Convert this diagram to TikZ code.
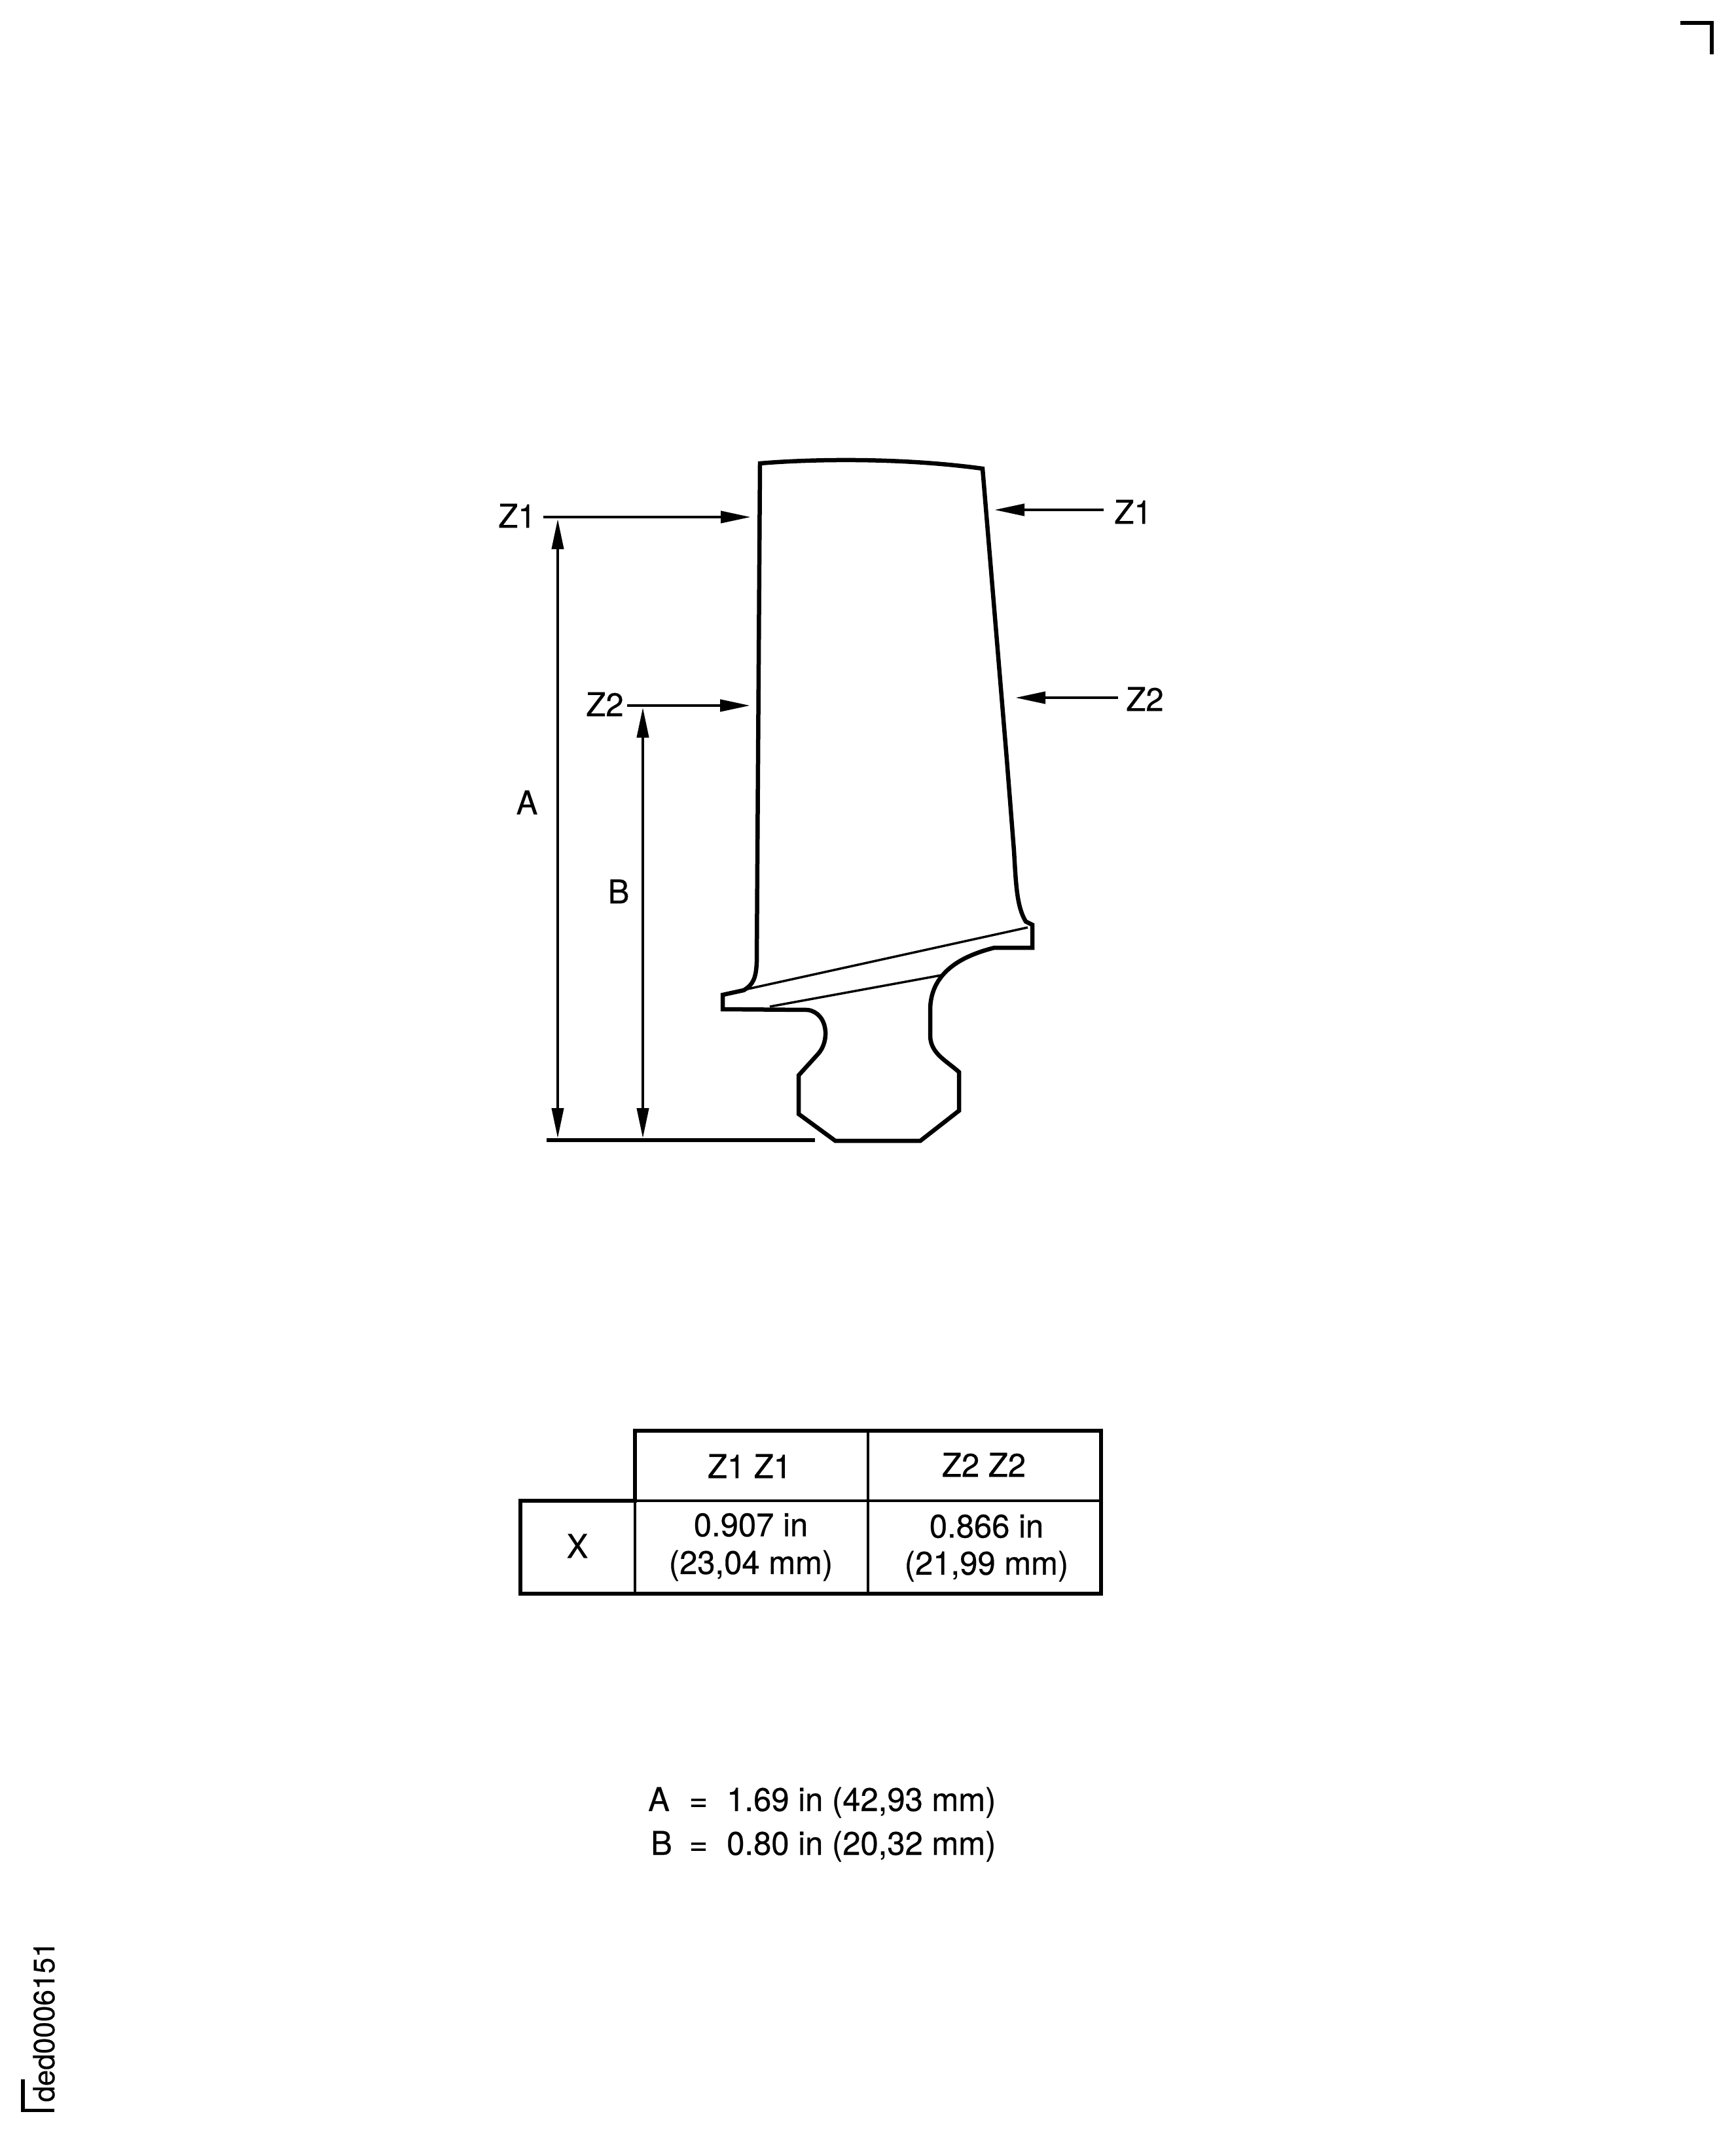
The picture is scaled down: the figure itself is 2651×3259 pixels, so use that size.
\documentclass[tikz,border=0pt]{standalone}
\usepackage{fontspec}
\setmainfont[FakeStretch=0.98,FakeBold=0.4]{TeX Gyre Heros}
\usetikzlibrary{arrows.meta}
\tikzset{
  outline/.style={line width=6.5pt,line join=miter},
  thinline/.style={line width=3.5pt},
  leader/.style={line width=4.5pt,-{Triangle[length=46pt,width=18pt]}},
  dimline/.style={line width=4pt,{Triangle[length=46pt,width=18pt]}-{Triangle[length=46pt,width=18pt]}},
  lbl/.style={inner sep=0pt,font=\fontsize{50}{60}\selectfont},
  tblline/.style={line width=4.5pt},
  tblouter/.style={line width=6.5pt,line cap=rect}
}
\begin{document}
\begin{tikzpicture}[x=1pt,y=-1pt]
\useasboundingbox (0,0) rectangle (2651,3259);
% corner marks
\draw[line width=6pt] (2567,35) -- (2615,35) -- (2615,83);
\draw[line width=5.5pt] (35,3177) -- (35,3224.5) -- (83,3224.5);
\node[lbl,rotate=90,font=\fontsize{45}{54}\selectfont] (ref) at (67,3089) {ded0006151};
% blade
\draw[outline] (1161,708) .. controls (1230,702) and (1370,698) .. (1501,716)
  -- (1538,1160) -- (1549,1300) .. controls (1552,1350) and (1553,1385) .. (1567,1408)
  -- (1577,1413) -- (1577,1448) -- (1519,1448)
  .. controls (1480,1458) and (1420,1480) .. (1421,1545)
  -- (1421,1583) .. controls (1422,1610) and (1445,1620) .. (1465,1638)
  -- (1465,1697) -- (1406,1743) -- (1276,1743) -- (1220,1702) -- (1220,1643)
  -- (1250,1610) .. controls (1268,1590) and (1265,1548) .. (1234,1543)
  -- (1104,1542) -- (1104,1520) -- (1136,1513)
  .. controls (1150,1505) and (1155,1495) .. (1156,1470) -- (1161,708) -- cycle;
\draw[thinline] (1138,1512) -- (1570,1417);
\draw[thinline] (1176,1538) -- (1438,1490);
% base line
\coordinate (basel) at (835,1742);
\coordinate (baser) at (1245,1742);
\draw[line width=6pt] (basel) -- (baser);
% Z labels
\node[lbl] (z1l) at (790,788) {Z1};
\node[lbl] (z2l) at (924,1076) {Z2};
\node[lbl] (z1r) at (1731,782) {Z1};
\node[lbl] (z2r) at (1749,1068) {Z2};
\coordinate (t1l) at (1147,790);
\coordinate (t2l) at (1146,1078);
\coordinate (t1r) at (1519,779);
\coordinate (t2r) at (1551,1066);
\draw[leader] (z1l.east |- t1l) ++(11,0) -- (t1l);
\draw[leader] (z2l.east |- t2l) ++(5,0) -- (t2l);
\draw[leader] (z1r.west |- t1r) ++(-16,0) -- (t1r);
\draw[leader] (z2r.west |- t2r) ++(-12,0) -- (t2r);
% dimensions
\coordinate (atop) at (852,793);
\coordinate (abot) at (852,1739);
\coordinate (btop) at (982,1081);
\coordinate (bbot) at (982,1739);
\draw[dimline] (atop) -- (abot);
\draw[dimline] (btop) -- (bbot);
\node[lbl] (a) at (805,1226) {A};
\node[lbl] (b) at (945,1362) {B};
% table
\draw[tblline] (970,2186) -- (970,2435);
\draw[tblline] (1326,2186) -- (1326,2435);
\draw[tblline] (970,2293) -- (1682,2293);
\draw[tblouter] (970,2293) -- (970,2186) -- (1682,2186) -- (1682,2435) -- (795,2435) -- (795,2293) -- (970,2293);
\node[lbl] (c1) at (1145,2240) {Z1 Z1};
\node[lbl] (c2) at (1503,2238) {Z2 Z2};
\node[lbl] (x) at (882,2362) {X};
\node[lbl] (v1) at (1147,2330) {0.907 in};
\node[lbl] (m1) at (1147,2392) {(23,04 mm)};
\node[lbl] (v2) at (1507,2332) {0.866 in};
\node[lbl] (m2) at (1507,2393) {(21,99 mm)};
% values
\node[lbl,anchor=base west] (va) at (990,2767) {A};
\node[lbl,anchor=base] (eqa) at (1067,2767) {=};
\node[lbl,anchor=base west] (da) at (1110,2767) {1.69 in (42,93 mm)};
\node[lbl,anchor=base west] (vb) at (994,2834) {B};
\node[lbl,anchor=base] (eqb) at (1067,2834) {=};
\node[lbl,anchor=base west] (db) at (1110,2834) {0.80 in (20,32 mm)};
\end{tikzpicture}
\end{document}
